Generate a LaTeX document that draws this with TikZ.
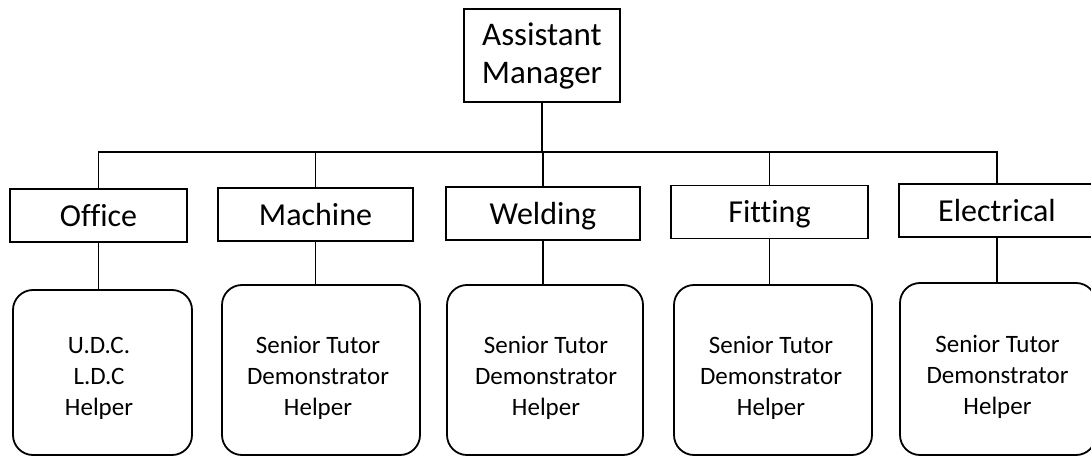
\documentclass[tikz,border=0pt]{standalone}
\usepackage{fontspec}
\setmainfont{Carlito}[Ligatures={NoCommon}]
\begin{document}
\begin{tikzpicture}[x=1pt,y=-1pt,
  every node/.style={inner sep=0pt},
  headbox/.style={draw,line width=1.8pt,rectangle,align=center,font=\fontsize{33}{38}\selectfont},
  deptbox/.style={draw,line width=1.8pt,rectangle,minimum height=53pt,text height=23pt,text depth=2pt,font=\fontsize{32}{38}\selectfont},
  staffbox/.style={draw,line width=1.8pt,rounded corners=20pt,minimum height=170pt},
  stafftext/.style={align=center,font=\fontsize{25}{31}\selectfont},
  link/.style={line width=1.8pt}]
\useasboundingbox (0,0) rectangle (1091,457);
\node[headbox,minimum width=156pt,minimum height=93pt] (top) at (542,55.5) {Assistant\\Manager};
\node[deptbox,minimum width=177pt] (office) at (98.5,215.5) {Office};
\node[deptbox,minimum width=195pt] (machine) at (315.5,214.5) {Machine};
\node[deptbox,minimum width=194pt] (welding) at (543,213.5) {Welding};
\node[deptbox,minimum width=197pt] (fitting) at (769.5,212) {Fitting};
\node[deptbox,minimum width=196pt] (electrical) at (997,210.5) {Electrical};
\node[staffbox,minimum width=179pt,minimum height=165pt] (os) at (102.5,372.5) {};
\node[staffbox,minimum width=198pt] (ms) at (321,370) {};
\node[staffbox,minimum width=196pt] (ws) at (545,370) {};
\node[staffbox,minimum width=198pt] (fs) at (773,370) {};
\node[staffbox,minimum width=196pt,minimum height=172pt] (es) at (998,369) {};
\node[stafftext] (ot) at (99,378) {U.D.C.\\L.D.C\\Helper};
\node[stafftext] (mt) at (318,378) {Senior Tutor\\Demonstrator\\Helper};
\node[stafftext] (wt) at (546,378) {Senior Tutor\\Demonstrator\\Helper};
\node[stafftext] (ft) at (771,378) {Senior Tutor\\Demonstrator\\Helper};
\node[stafftext] (et) at (997.5,377) {Senior Tutor\\Demonstrator\\Helper};
\coordinate (bus) at (542,152);
\draw[link] (top.south) -- (bus);
\draw[link] (office.north) -- (office.north |- bus) -- (electrical.north |- bus) -- (electrical.north);
\draw[link] (machine.north) -- (machine.north |- bus);
\draw[link] (welding.north) -- (welding.north |- bus);
\draw[link] (fitting.north) -- (fitting.north |- bus);
\draw[link] (office.south) -- (office.south |- os.north);
\draw[link] (machine.south) -- (machine.south |- ms.north);
\draw[link] (welding.south) -- (welding.south |- ws.north);
\draw[link] (fitting.south) -- (fitting.south |- fs.north);
\draw[link] (electrical.south) -- (electrical.south |- es.north);
\end{tikzpicture}
\end{document}
